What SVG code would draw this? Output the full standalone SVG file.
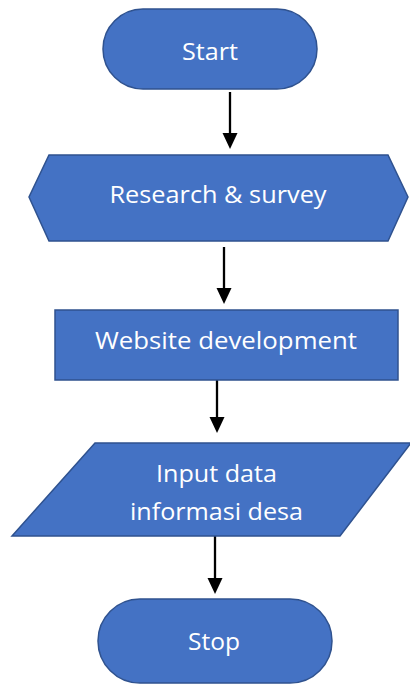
<svg xmlns="http://www.w3.org/2000/svg" width="410" height="684" viewBox="0 0 410 684">
<style>
.n{fill:#4472C4;stroke:#2F528F;stroke-width:1.5}
.t{fill:#ffffff;font-family:"Open Sans","Noto Sans",sans-serif;font-size:24px;text-anchor:middle}
.c{stroke:#000;stroke-width:2.3;fill:none}
.h{fill:#000}
</style>
<rect width="410" height="684" fill="#ffffff"/>
<g id="connectors">
<line class="c" x1="230" y1="92" x2="230" y2="133"/>
<path class="h" d="M222.5,133 L237.5,133 L230,149 Z"/>
<line class="c" x1="224" y1="247" x2="224" y2="288"/>
<path class="h" d="M216.5,288 L231.5,288 L224,304 Z"/>
<line class="c" x1="217" y1="376" x2="217" y2="417"/>
<path class="h" d="M209.5,417 L224.5,417 L217,433 Z"/>
<line class="c" x1="215" y1="536" x2="215" y2="578"/>
<path class="h" d="M207.5,578 L222.5,578 L215,594 Z"/>
</g>
<g id="start">
<rect class="n" x="103" y="9" width="214" height="80" rx="40" ry="40"/>
<text class="t" x="210" y="60" textLength="56" lengthAdjust="spacingAndGlyphs">Start</text>
</g>
<g id="research">
<polygon class="n" points="49,155 388,155 408,197 388,241 49,241 29,197"/>
<text class="t" x="218" y="203" textLength="217" lengthAdjust="spacingAndGlyphs">Research &amp; survey</text>
</g>
<g id="website">
<rect class="n" x="55" y="310" width="343" height="70"/>
<text class="t" x="226" y="349" textLength="262" lengthAdjust="spacingAndGlyphs">Website development</text>
</g>
<g id="input">
<polygon class="n" points="95,443 411,443 340,536 12,536"/>
<text class="t" x="216.5" y="482" textLength="121" lengthAdjust="spacingAndGlyphs">Input data</text>
<text class="t" x="216.5" y="520" textLength="173" lengthAdjust="spacingAndGlyphs">informasi desa</text>
</g>
<g id="stop">
<rect class="n" x="98" y="599" width="234" height="84" rx="42" ry="42"/>
<text class="t" x="214" y="650" textLength="52" lengthAdjust="spacingAndGlyphs">Stop</text>
</g>
</svg>
